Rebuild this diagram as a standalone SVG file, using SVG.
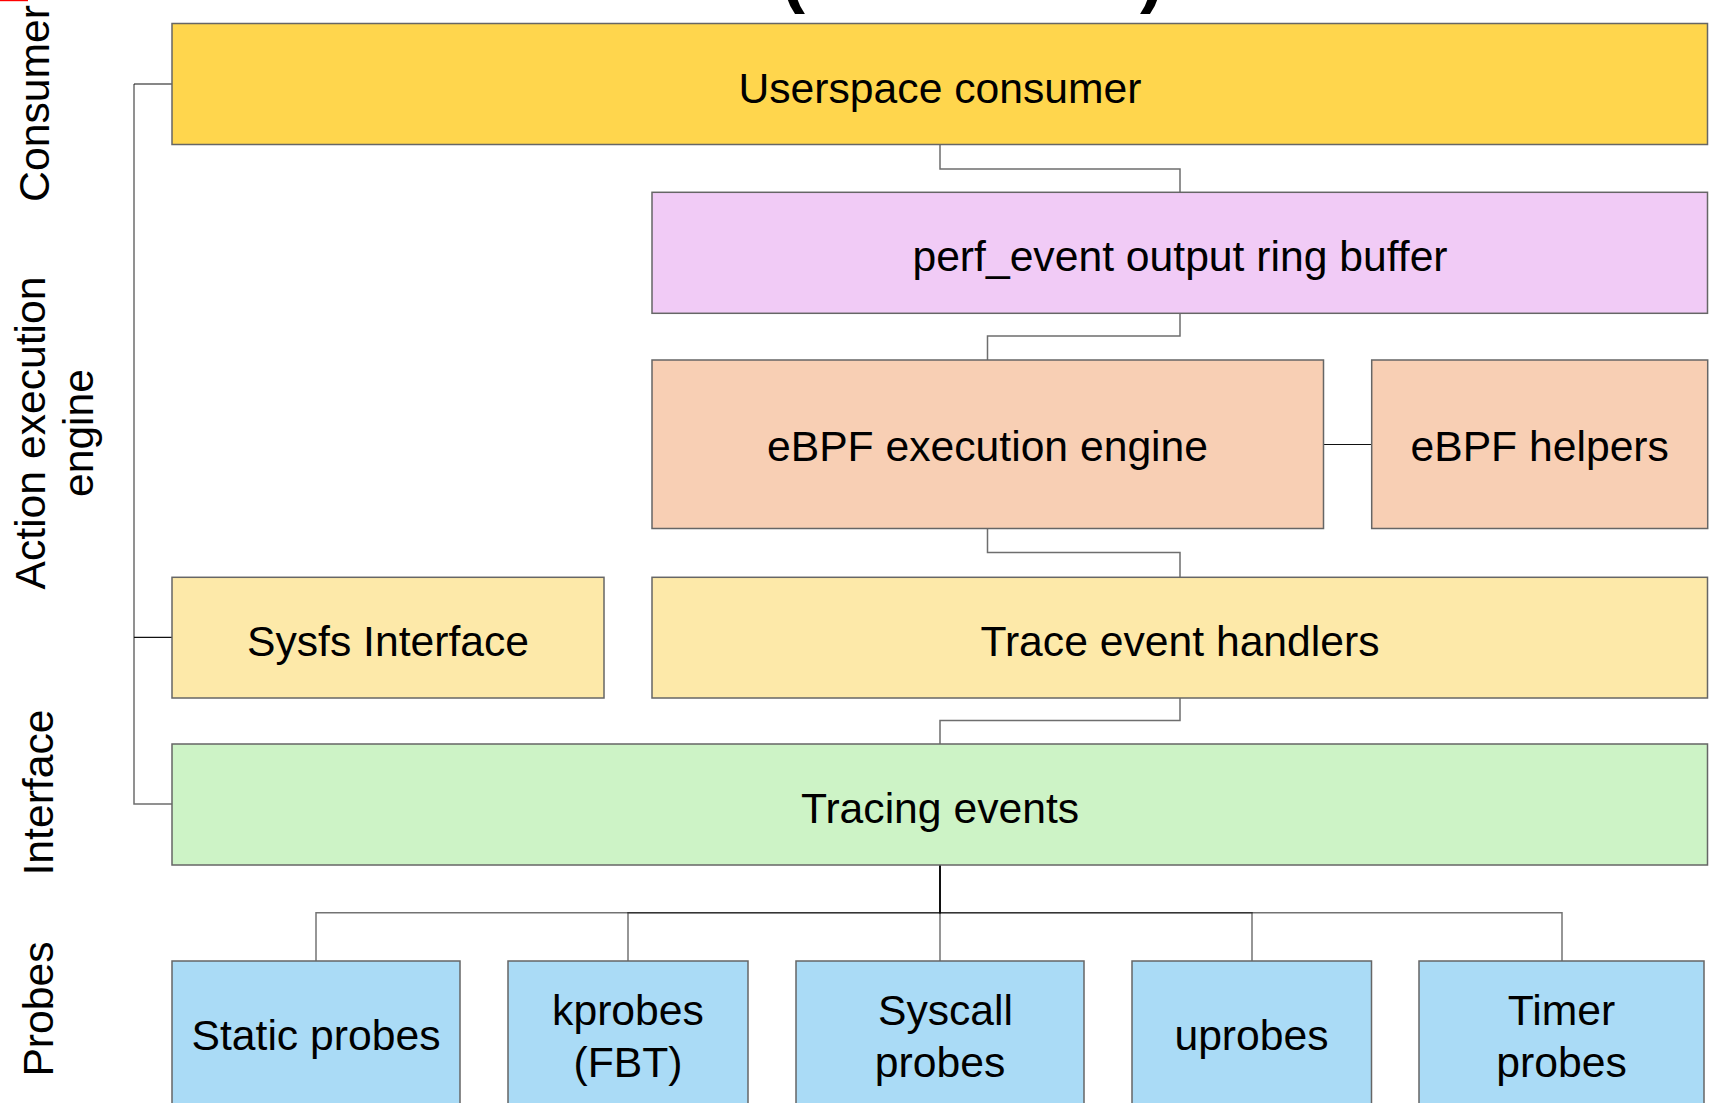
<svg xmlns="http://www.w3.org/2000/svg" width="1712" height="1103" viewBox="0 0 1712 1103">
<style>
  .box { stroke: #666; stroke-width: 1.5; }
  .lbl { font-family: "Liberation Sans", Arial, sans-serif; font-size: 42.67px; fill: #000; text-anchor: middle; }
  .side { font-family: "Liberation Sans", Arial, sans-serif; font-size: 42.67px; fill: #000; text-anchor: middle; }
  .title { font-family: "Liberation Sans", Arial, sans-serif; font-size: 72px; font-weight: bold; fill: #000; }
  .conn { fill: none; stroke: #6e6e6e; stroke-width: 1.5; }
  .bus { fill: none; stroke: #000; stroke-opacity: 0.55; stroke-width: 1.5; }
  .dark { fill: none; stroke: #111; stroke-width: 1.2; }
  .c-yellow { fill: #FFD64D; }
  .c-purple { fill: #F1CBF6; }
  .c-orange { fill: #F8CFB4; }
  .c-lightyellow { fill: #FDE9A9; }
  .c-green { fill: #CDF3C6; }
  .c-blue { fill: #AADBF6; }
</style>
<rect x="0" y="0" width="1712" height="1103" fill="#fff"/>
<rect x="0" y="0" width="28" height="1.2" fill="#ff0000"/>
<text class="title" x="781" y="-1">(</text>
<text class="title" x="1140" y="-1">)</text>

<g id="side-labels">
  <text class="side" transform="translate(49,103.5) rotate(-90)">Consumer</text>
  <text class="side" transform="translate(45,433) rotate(-90)">Action execution</text>
  <text class="side" transform="translate(93,433) rotate(-90)">engine</text>
  <text class="side" transform="translate(52.5,792.5) rotate(-90)">Interface</text>
  <text class="side" transform="translate(52.5,1009) rotate(-90)">Probes</text>
</g>

<g id="connectors">
  <path class="conn" d="M940,144.5 V169 H1180 V192.3"/>
  <path class="conn" d="M1180,313.3 V336 H987.5 V360"/>
  <path class="dark" d="M1323.5,444.5 H1371.7"/>
  <path class="conn" d="M987.5,528.5 V552.5 H1180 V577.3"/>
  <path class="conn" d="M1180,698 V720.6 H940 V744"/>
  <path class="bus" d="M940,865 V912.7 H316 V961"/>
  <path class="bus" d="M940,865 V912.7 H628 V961"/>
  <path class="bus" d="M940,865 V912.7 V961"/>
  <path class="bus" d="M940,865 V912.7 H1252 V961"/>
  <path class="bus" d="M940,865 V912.7 H1562 V961"/>
  <path class="conn" d="M134,84 V804 H172"/>
  <path class="dark" d="M172,84 H134"/>
  <path class="dark" d="M134,637.3 H172"/>
</g>

<g id="userspace-consumer">
  <rect class="box c-yellow" x="172" y="23.5" width="1535.5" height="121"/>
  <text class="lbl" x="940" y="102.5">Userspace consumer</text>
</g>
<g id="perf-event-ring-buffer">
  <rect class="box c-purple" x="652" y="192.3" width="1055.5" height="121"/>
  <text class="lbl" x="1180" y="271">perf_event output ring buffer</text>
</g>
<g id="ebpf-execution-engine">
  <rect class="box c-orange" x="652" y="360" width="671.5" height="168.5"/>
  <text class="lbl" x="987.5" y="461">eBPF execution engine</text>
</g>
<g id="ebpf-helpers">
  <rect class="box c-orange" x="1371.7" y="360" width="336" height="168.5"/>
  <text class="lbl" x="1539.7" y="461">eBPF helpers</text>
</g>
<g id="sysfs-interface">
  <rect class="box c-lightyellow" x="172" y="577.3" width="432" height="120.7"/>
  <text class="lbl" x="388" y="655.5">Sysfs Interface</text>
</g>
<g id="trace-event-handlers">
  <rect class="box c-lightyellow" x="652" y="577.3" width="1055.5" height="120.7"/>
  <text class="lbl" x="1180" y="655.5">Trace event handlers</text>
</g>
<g id="tracing-events">
  <rect class="box c-green" x="172" y="744" width="1535.5" height="121"/>
  <text class="lbl" x="940" y="822.5">Tracing events</text>
</g>
<g id="static-probes">
  <rect class="box c-blue" x="172" y="961" width="288" height="200"/>
  <text class="lbl" x="316" y="1050">Static probes</text>
</g>
<g id="kprobes">
  <rect class="box c-blue" x="508" y="961" width="240" height="200"/>
  <text class="lbl" x="628" y="1025">kprobes</text>
  <text class="lbl" x="628" y="1076.5">(FBT)</text>
</g>
<g id="syscall-probes">
  <rect class="box c-blue" x="796" y="961" width="288" height="200"/>
  <text class="lbl" x="945.5" y="1025">Syscall</text>
  <text class="lbl" x="940" y="1076.5">probes</text>
</g>
<g id="uprobes">
  <rect class="box c-blue" x="1132" y="961" width="239.5" height="200"/>
  <text class="lbl" x="1251.5" y="1050">uprobes</text>
</g>
<g id="timer-probes">
  <rect class="box c-blue" x="1419" y="961" width="285" height="200"/>
  <text class="lbl" x="1561.5" y="1025">Timer</text>
  <text class="lbl" x="1561.5" y="1076.5">probes</text>
</g>
</svg>
